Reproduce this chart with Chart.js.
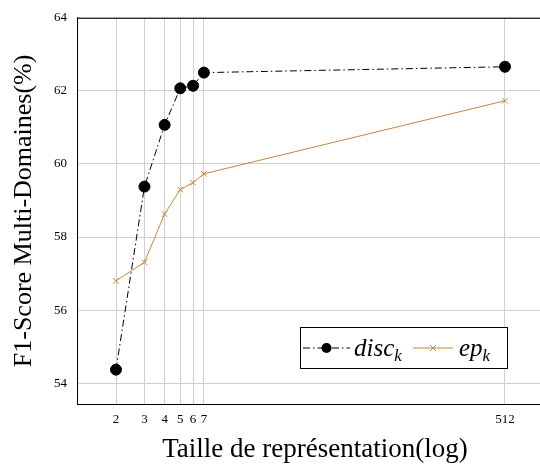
<!DOCTYPE html>
<html>
<head>
<meta charset="utf-8">
<script src="https://cdn.jsdelivr.net/npm/chart.js@4/dist/chart.umd.min.js"></script>
<style>
  html, body { margin: 0; padding: 0; background: #fff; overflow: hidden; }
  /* le cadre dépasse à droite de l'image : canevas un peu plus large que la fenêtre */
  #wrap { width: 553px; height: 468px; }
</style>
</head>
<body>
<div id="wrap"><canvas id="myChart"></canvas></div>
<script>
    // valeurs
    const tailles = [2, 3, 4, 5, 6, 7, 512];
    const discK = [54.37, 59.38, 61.07, 62.07, 62.14, 62.5, 62.66];
    const epK = [56.8, 57.31, 58.63, 59.3, 59.49, 59.73, 61.73];
    const yTicks = [54, 56, 58, 60, 62, 64];

    const serif = "'Liberation Serif', 'DejaVu Serif', serif";
    const orange = '#c8843c';

    // légende dessinée à la main (indice k)
    const legendBox = {
        id: 'legendBox',
        afterDraw(chart) {
            const c = chart.ctx;
            const sets = chart.data.datasets;
            c.save();
            c.fillStyle = '#fff';
            c.fillRect(300.5, 327.5, 207, 41);
            c.strokeStyle = '#000';
            c.lineWidth = 1;
            c.strokeRect(300.5, 327.5, 207, 41);

            const items = [
                { ds: sets[0], x0: 303, x1: 350, tx: 354 },
                { ds: sets[1], x0: 413, x1: 453, tx: 459 }
            ];
            const yMid = 348;
            items.forEach(it => {
                c.beginPath();
                c.setLineDash(it.ds.borderDash || []);
                c.strokeStyle = it.ds.borderColor;
                c.lineWidth = 1;
                c.moveTo(it.x0, yMid);
                c.lineTo(it.x1, yMid);
                c.stroke();
                c.setLineDash([]);
                const mx = (it.x0 + it.x1) / 2;
                if (it.ds.pointStyle === 'circle') {
                    c.fillStyle = it.ds.pointBackgroundColor;
                    c.beginPath();
                    c.arc(mx, yMid, 5, 0, Math.PI * 2);
                    c.fill();
                } else {
                    c.beginPath();
                    c.moveTo(mx - 3, yMid - 3); c.lineTo(mx + 3, yMid + 3);
                    c.moveTo(mx + 3, yMid - 3); c.lineTo(mx - 3, yMid + 3);
                    c.stroke();
                }
                const parts = it.ds.label.split('_');
                c.fillStyle = '#000';
                c.textBaseline = 'alphabetic';
                c.textAlign = 'left';
                c.font = 'italic 25px ' + serif;
                c.fillText(parts[0], it.tx, 356);
                const w = c.measureText(parts[0]).width;
                c.font = 'italic 17px ' + serif;
                c.fillText(parts[1], it.tx + w, 361);
            });
            c.restore();
        }
    };

    // bord supérieur du cadre
    const topBorder = {
        id: 'topBorder',
        afterDatasetsDraw(chart) {
            const a = chart.chartArea;
            const c = chart.ctx;
            c.save();
            c.strokeStyle = '#000';
            c.lineWidth = 1;
            c.beginPath();
            c.moveTo(a.left, a.top + 0.5);
            c.lineTo(a.right, a.top + 0.5);
            c.stroke();
            c.restore();
        }
    };

    var ctx = document.getElementById('myChart').getContext('2d');
    var lineChart = new Chart(ctx, {
        type: 'line',
        data: {
            datasets: [
                {
                    label: 'disc_k',
                    data: tailles.map((value, index) => ({ x: value, y: discK[index] })),
                    borderColor: '#000',
                    borderWidth: 1,
                    borderDash: [7, 3, 1.5, 3],
                    pointStyle: 'circle',
                    pointRadius: 5.5,
                    pointBackgroundColor: '#000',
                    pointBorderColor: '#000',
                    fill: false,
                    tension: 0,
                },
                {
                    label: 'ep_k',
                    data: tailles.map((value, index) => ({ x: value, y: epK[index] })),
                    borderColor: orange,
                    borderWidth: 1,
                    pointStyle: 'crossRot',
                    pointRadius: 4,
                    pointBorderColor: orange,
                    pointBorderWidth: 1,
                    fill: false,
                    tension: 0,
                }
            ]
        },
        options: {
            responsive: true,
            maintainAspectRatio: false,
            animation: false,
            layout: { autoPadding: false, padding: { top: 17, right: 0, left: 0, bottom: 0 } },
            plugins: {
                legend: { display: false },
                tooltip: { enabled: false },
            },
            scales: {
                x: {
                    type: 'logarithmic',
                    min: 1.147,
                    max: 1015,
                    afterBuildTicks: axis => { axis.ticks = tailles.map(v => ({ value: v })); },
                    afterFit: axis => {
                        axis.height = 64;
                        axis.paddingLeft = 0;
                        axis.paddingRight = 0;
                    },
                    grid: { color: '#cfcfcf', drawTicks: false },
                    border: { color: '#000', width: 1 },
                    ticks: {
                        color: '#000',
                        font: { family: serif, size: 13 },
                        padding: 8,
                        maxRotation: 0,
                        autoSkip: false,
                        callback: v => String(v),
                    },
                    title: {
                        display: true,
                        text: 'Taille de représentation(log)',
                        color: '#000',
                        font: { family: serif, size: 27 },
                        padding: { top: 4, bottom: 2 },
                    }
                },
                y: {
                    min: 53.43,
                    max: 64,
                    afterBuildTicks: axis => { axis.ticks = yTicks.map(v => ({ value: v })); },
                    afterFit: axis => { axis.width = 77; },
                    grid: { color: '#cfcfcf', drawTicks: false },
                    border: { color: '#000', width: 1 },
                    ticks: {
                        color: '#000',
                        font: { family: serif, size: 13 },
                        padding: 10,
                    },
                    title: {
                        display: true,
                        text: 'F1-Score Multi-Domaines(%)',
                        color: '#000',
                        font: { family: serif, size: 26 },
                        padding: { top: 9, bottom: 0 },
                    }
                }
            }
        },
        plugins: [topBorder, legendBox]
    });
</script>
</body>
</html>
